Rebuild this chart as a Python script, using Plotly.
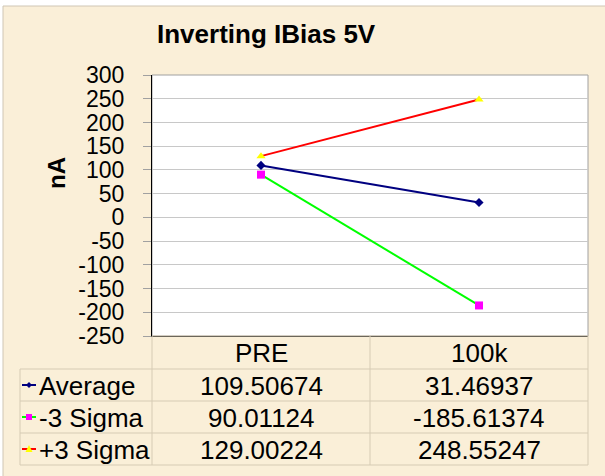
import plotly.graph_objects as go

categories = ["PRE", "100k"]
series_names = ["Average", "-3 Sigma", "+3 Sigma"]
average = [109.50674, 31.46937]
minus3 = [90.01124, -185.61374]
plus3 = [129.00224, 248.55247]
y_ticks = list(range(-250, 301, 50))

W, H = 605, 476
L, R, T, B = 152, 588, 75, 336  # plot area in px

def px(x):
    return (x - L) / (R - L)

def py(y):
    return (B - y) / (B - T)

FONT = "Liberation Sans, Arial, sans-serif"
BG = "#FAEFD8"
GRID = "#C8C8C8"
TABLE_LINE = "#D6CBB4"

fig = go.Figure()
styles = [
    dict(line=dict(color="#000080", width=2), marker=dict(symbol="diamond", color="#000080", size=7)),
    dict(line=dict(color="#00FF00", width=2), marker=dict(symbol="square", color="#FF00FF", size=8)),
    dict(line=dict(color="#FF0000", width=2), marker=dict(symbol="triangle-up", color="#FFFF00", size=8)),
]
for name, vals, st in zip(series_names, [average, minus3, plus3], styles):
    fig.add_trace(go.Scatter(x=categories, y=vals, name=name, mode="lines+markers",
                             line=st["line"], marker=st["marker"], cliponaxis=False))

shapes = []
shapes.append(dict(type="rect", xref="paper", yref="paper", x0=px(3), x1=px(606), y0=py(477), y1=py(6),
                   fillcolor=BG, line=dict(color="#CFC6B4", width=1), layer="below"))
shapes.append(dict(type="rect", xref="paper", yref="paper", x0=0, x1=1, y0=0, y1=1,
                   fillcolor="white", line=dict(color="#A0A0A0", width=1), layer="below"))

row_lines = [336, 369, 401, 433, 465]
for i, yl in enumerate(row_lines):
    x0 = px(20) if i >= 1 else 0
    shapes.append(dict(type="line", xref="paper", yref="paper", x0=x0, x1=1, y0=py(yl), y1=py(yl),
                       line=dict(color=TABLE_LINE, width=1)))
shapes.append(dict(type="line", xref="paper", yref="paper", x0=px(20), x1=px(20), y0=py(369), y1=py(465),
                   line=dict(color=TABLE_LINE, width=1)))
shapes.append(dict(type="line", xref="paper", yref="paper", x0=0, x1=0, y0=py(336), y1=py(465),
                   line=dict(color=TABLE_LINE, width=1)))
shapes.append(dict(type="line", xref="x", yref="paper", x0=0.5, x1=0.5, y0=py(336), y1=py(465),
                   line=dict(color=TABLE_LINE, width=1)))
shapes.append(dict(type="line", xref="paper", yref="paper", x0=1, x1=1, y0=py(336), y1=py(465),
                   line=dict(color=TABLE_LINE, width=1)))

annotations = []
annotations.append(dict(text="<b>Inverting IBias 5V</b>", xref="paper", yref="paper", x=px(266), y=py(34),
                        showarrow=False, font=dict(family=FONT, size=26, color="black"),
                        xanchor="center", yanchor="middle"))
annotations.append(dict(text="<b>nA</b>", xref="paper", yref="paper", x=px(56), y=py(173), textangle=-90,
                        showarrow=False, font=dict(family=FONT, size=24, color="black"),
                        xanchor="center", yanchor="middle"))
for i, c in enumerate(categories):
    annotations.append(dict(text=c, xref="x", yref="paper", x=i, y=py(353), showarrow=False,
                            font=dict(family=FONT, size=26, color="black"), xanchor="center", yanchor="middle"))

row_centers = [385, 417, 449]
for r, (name, vals, st) in enumerate(zip(series_names, [average, minus3, plus3], styles)):
    yc = row_centers[r]
    annotations.append(dict(text=name, xref="paper", yref="paper", x=px(37), y=py(yc + 1), showarrow=False,
                            font=dict(family=FONT, size=26, color="black"), xanchor="left", yanchor="middle"))
    for i, v in enumerate(vals):
        annotations.append(dict(text=f"{v:.8g}", xref="x", yref="paper", x=i,
                                y=py(yc + 1), showarrow=False,
                                font=dict(family=FONT, size=26, color="black"), xanchor="center", yanchor="middle"))
    shapes.append(dict(type="line", xref="paper", yref="paper", x0=px(22), x1=px(36), y0=py(yc), y1=py(yc),
                       line=dict(color=st["line"]["color"], width=2)))
    mc = st["marker"]["color"]
    sym = st["marker"]["symbol"]
    cx = 29
    if sym == "square":
        shapes.append(dict(type="rect", xref="paper", yref="paper", x0=px(cx - 3), x1=px(cx + 3),
                           y0=py(yc + 3), y1=py(yc - 3), fillcolor=mc, line=dict(width=0)))
    elif sym == "triangle-up":
        path = f"M {px(cx - 3.5)} {py(yc + 3)} L {px(cx + 3.5)} {py(yc + 3)} L {px(cx)} {py(yc - 4)} Z"
        shapes.append(dict(type="path", xref="paper", yref="paper", path=path, fillcolor=mc, line=dict(width=0)))
    else:
        path = f"M {px(cx - 3)} {py(yc)} L {px(cx)} {py(yc - 3)} L {px(cx + 3)} {py(yc)} L {px(cx)} {py(yc + 3)} Z"
        shapes.append(dict(type="path", xref="paper", yref="paper", path=path, fillcolor=mc, line=dict(width=0)))

fig.update_layout(
    width=W, height=H,
    margin=dict(l=L, r=W - R, t=T, b=H - B, pad=0),
    paper_bgcolor="white", plot_bgcolor="white",
    showlegend=False,
    shapes=shapes, annotations=annotations,
    xaxis=dict(type="category", range=[-0.5, 1.5], showticklabels=False, showgrid=False,
               showline=True, linecolor="black", linewidth=1, ticks="", zeroline=False),
    yaxis=dict(range=[-250, 300], tickvals=y_ticks, ticktext=[str(t) for t in y_ticks],
               showgrid=True, gridcolor=GRID, gridwidth=1, zeroline=False,
               showline=True, linecolor="black", linewidth=1,
               ticks="outside", ticklen=8, tickcolor="#A0A0A0",
               ticklabelstandoff=14,
               tickfont=dict(family=FONT, size=23, color="black")),
)

fig.write_html("out.html", config={"displayModeBar": False},
               post_script="document.body.style.margin='0';")
